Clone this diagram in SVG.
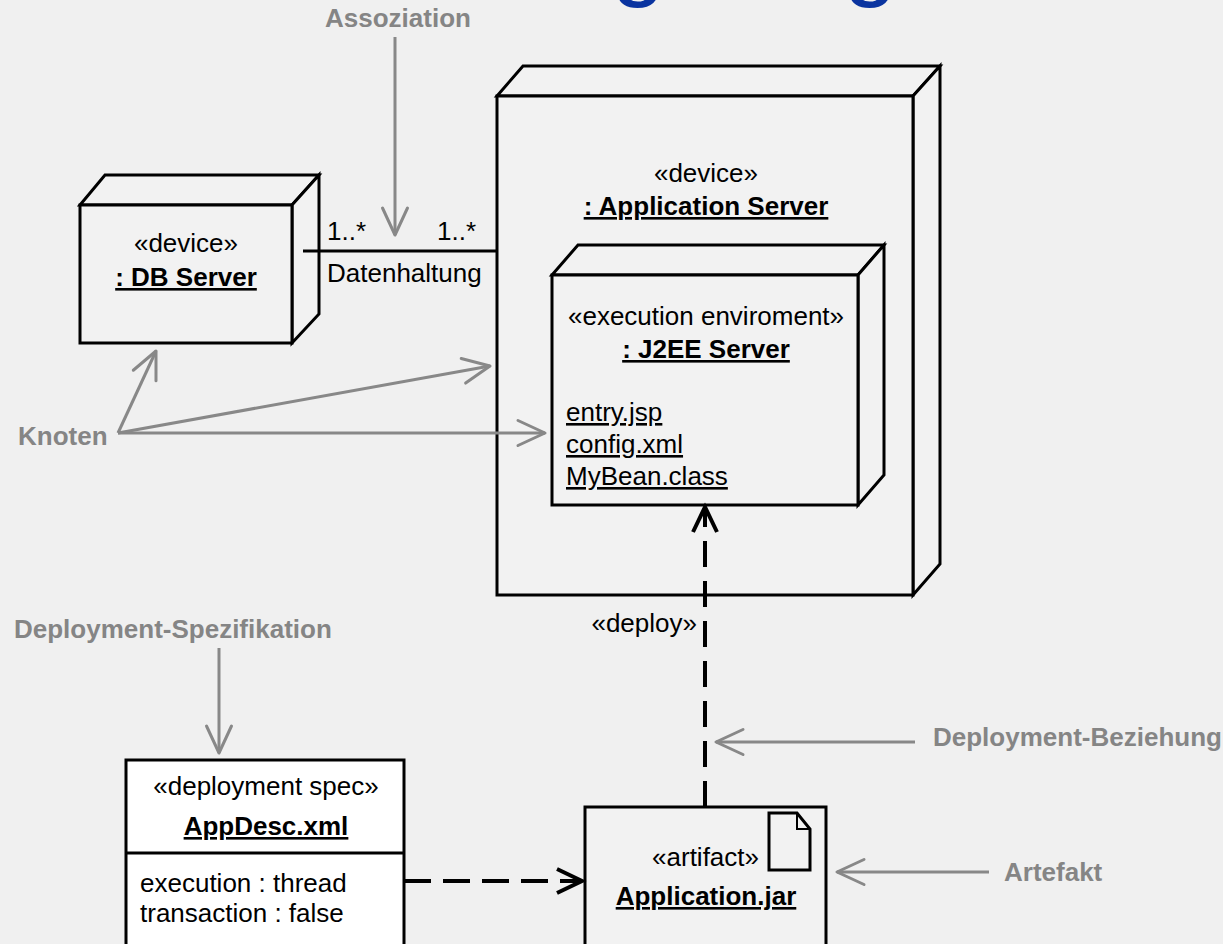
<svg xmlns="http://www.w3.org/2000/svg" width="1223" height="944" viewBox="0 0 1223 944">
<style>
.bg{fill:#f0f0f0}
.node{fill:#f2f2f2;stroke:#000;stroke-width:3;stroke-linejoin:miter}
.spec{fill:#ffffff;stroke:#000;stroke-width:3}
.t{font-family:"Liberation Sans",Arial,sans-serif;font-size:26px;fill:#000}
.b{font-weight:bold}
.u{text-decoration:underline}
.c{text-anchor:middle}
.e{text-anchor:end}
.lbl{font-family:"Liberation Sans",Arial,sans-serif;font-size:26px;font-weight:bold;fill:#858585}
.gline{fill:none;stroke:#888;stroke-width:3}
.bline{fill:none;stroke:#000;stroke-width:3}
.dash{fill:none;stroke:#000;stroke-width:4}
</style>
<defs>
<marker id="gopen" markerUnits="userSpaceOnUse" viewBox="-30 -15 32 30" refX="0" refY="0" markerWidth="32" markerHeight="30" orient="auto" style="overflow:visible">
<path d="M-27,-12.5 L0,0 L-27,12.5" fill="none" stroke="#888" stroke-width="3" stroke-linejoin="round" stroke-linecap="round"/>
</marker>
<marker id="bopen" markerUnits="userSpaceOnUse" viewBox="-30 -15 32 30" refX="0" refY="0" markerWidth="32" markerHeight="30" orient="auto" style="overflow:visible">
<path d="M-25,-12 L0,0 L-25,12" fill="none" stroke="#000" stroke-width="4" stroke-linejoin="miter" stroke-dasharray="none"/>
</marker>
</defs>
<rect class="bg" x="0" y="0" width="1223" height="944"/>

<text id="title" x="234" y="-12" font-family="'Liberation Sans',Arial,sans-serif" font-size="97" fill="#0a34a0">Verteilungsdiagramm</text>

<g id="app-server">
<path class="node" d="M497,96 L523,66 L940,66 L913,96 Z"/>
<path class="node" d="M913,96 L940,66 L940,564 L913,595 Z"/>
<rect class="node" x="497" y="96" width="416" height="499"/>
<text class="t c" x="706" y="182">«device»</text>
<text class="t b u c" x="706" y="215">: Application Server</text>
</g>

<g id="j2ee-server">
<path class="node" d="M552,275 L578,245 L884,245 L858,275 Z"/>
<path class="node" d="M858,275 L884,245 L884,475 L858,505 Z"/>
<rect class="node" x="552" y="275" width="306" height="230"/>
<text class="t c" x="706" y="325">«execution enviroment»</text>
<text class="t b u c" x="706" y="358">: J2EE Server</text>
<text class="t u" x="566" y="421">entry.jsp</text>
<text class="t u" x="566" y="453">config.xml</text>
<text class="t u" x="566" y="485">MyBean.class</text>
</g>

<g id="db-server">
<path class="node" d="M80,205 L105,175 L319,175 L292,205 Z"/>
<path class="node" d="M292,205 L319,175 L319,314 L292,343 Z"/>
<rect class="node" x="80" y="205" width="212" height="138"/>
<text class="t c" x="186" y="252">«device»</text>
<text class="t b u c" x="186" y="286">: DB Server</text>
</g>

<g id="deployment-spec">
<rect class="spec" x="126" y="760" width="278" height="200"/>
<line class="bline" x1="126" y1="853" x2="404" y2="853"/>
<text class="t c" x="266" y="795">«deployment spec»</text>
<text class="t b u c" x="266" y="835">AppDesc.xml</text>
<text class="t" x="140" y="892">execution : thread</text>
<text class="t" x="140" y="922">transaction : false</text>
</g>

<g id="artifact">
<rect class="node" x="585" y="807" width="241" height="160"/>
<path d="M769,813 L797,813 L810,829 L810,870 L769,870 Z" fill="none" stroke="#000" stroke-width="3" stroke-linejoin="miter"/>
<path d="M797,813 L797,829 L810,829" fill="none" stroke="#000" stroke-width="2"/>
<text class="t e" x="759" y="866">«artifact»</text>
<text class="t b u c" x="706" y="905">Application.jar</text>
</g>

<g id="connectors">
<line class="bline" x1="303" y1="251" x2="497" y2="251"/>
<text class="t" x="327" y="240">1..*</text>
<text class="t" x="437" y="240">1..*</text>
<text class="t" x="327" y="282">Datenhaltung</text>

<path class="dash" d="M705,807 L705,507" stroke-dasharray="26 14" marker-end="url(#bopen)"/>
<text class="t e" x="697" y="632">«deploy»</text>

<path class="dash" d="M404,881 L582,881" stroke-dasharray="27 12" marker-end="url(#bopen)"/>
</g>

<g id="annotations">
<text class="lbl" x="325" y="27">Assoziation</text>
<line class="gline" x1="395" y1="37" x2="395" y2="235" marker-end="url(#gopen)"/>

<text class="lbl" x="18" y="445">Knoten</text>
<line class="gline" x1="118" y1="433" x2="156" y2="351" marker-end="url(#gopen)"/>
<line class="gline" x1="118" y1="433" x2="490" y2="366" marker-end="url(#gopen)"/>
<line class="gline" x1="118" y1="433" x2="545" y2="433" marker-end="url(#gopen)"/>

<text class="lbl" x="14" y="638">Deployment-Spezifikation</text>
<line class="gline" x1="219" y1="648" x2="219" y2="753" marker-end="url(#gopen)"/>

<text class="lbl" x="933" y="746">Deployment-Beziehung</text>
<line class="gline" x1="915" y1="742" x2="716" y2="742" marker-end="url(#gopen)"/>

<text class="lbl" x="1004" y="881">Artefakt</text>
<line class="gline" x1="989" y1="872" x2="837" y2="872" marker-end="url(#gopen)"/>
</g>
</svg>
